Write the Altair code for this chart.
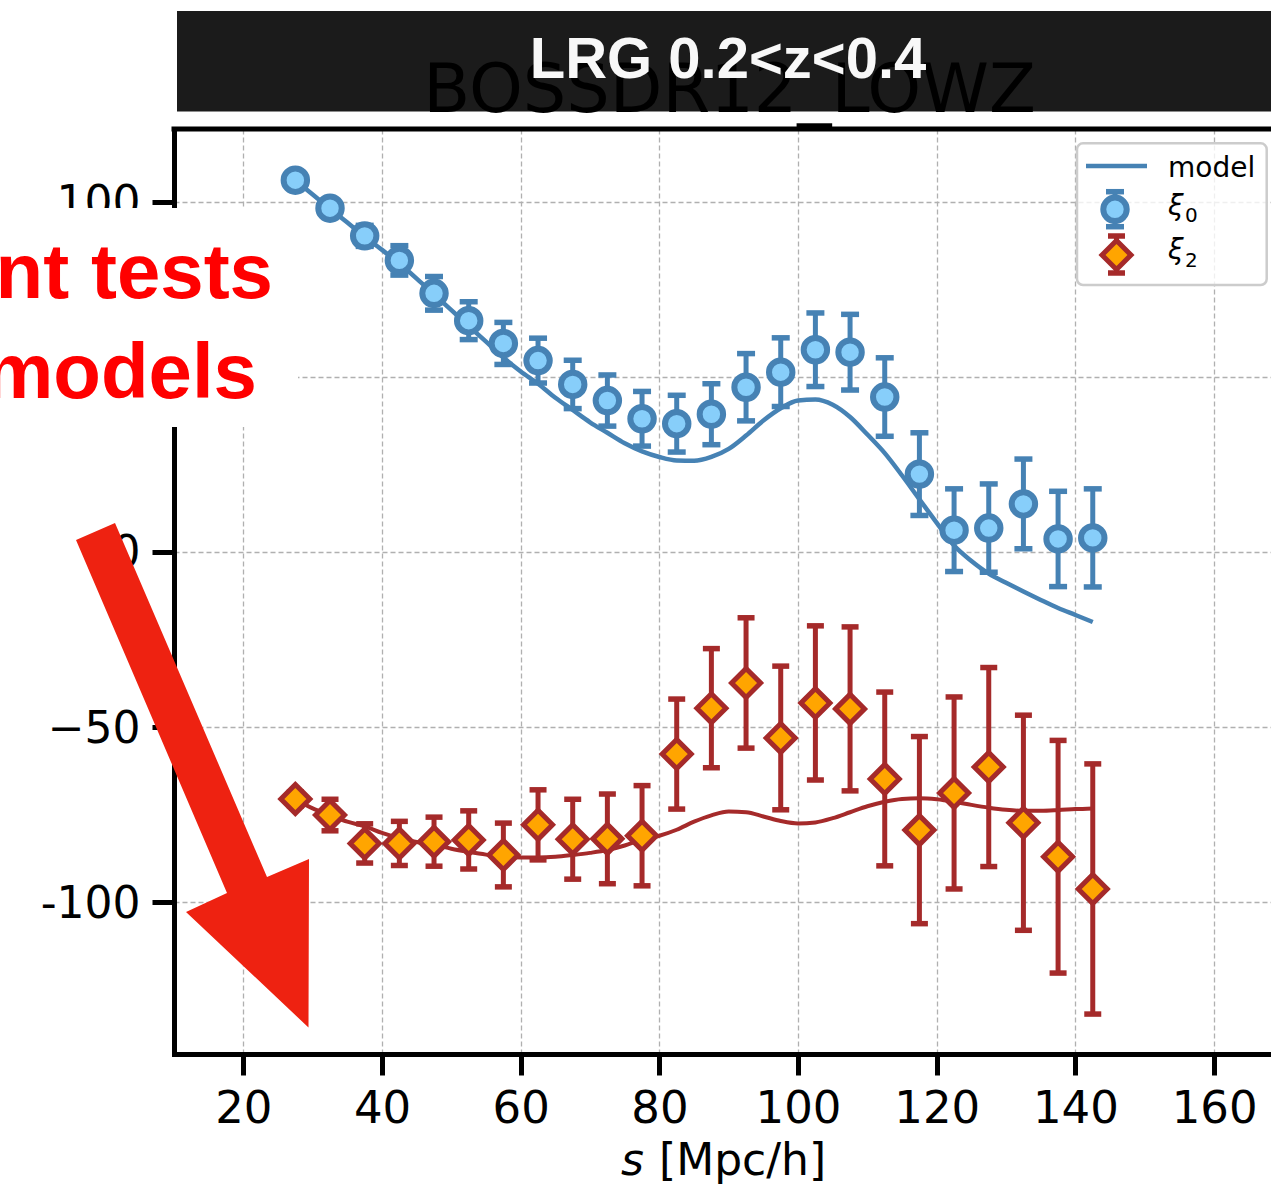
import altair as alt
import pandas as pd

# ---------------- data ----------------
s = [27.5, 32.5, 37.5, 42.5, 47.5, 52.5, 57.5, 62.5, 67.5, 72.5, 77.5, 82.5,
     87.5, 92.5, 97.5, 102.5, 107.5, 112.5, 117.5, 122.5, 127.5, 132.5, 137.5, 142.5]
xi0 = [106.1, 98.1, 90.2, 83.2, 73.8, 66.0, 59.5, 54.6, 47.8, 43.2, 38.0, 36.6,
       39.3, 47.0, 51.3, 57.7, 57.0, 44.2, 22.2, 6.2, 6.8, 13.7, 3.7, 4.0]
xi0_err = [1.5, 2.2, 3.0, 4.2, 4.8, 5.4, 6.0, 6.4, 6.9, 7.3, 7.8, 8.1,
           8.7, 9.6, 9.8, 10.5, 10.8, 11.2, 11.8, 11.8, 12.6, 12.8, 13.6, 14.0]
xi2 = [-70.5, -75.1, -83.2, -83.2, -82.7, -82.2, -86.5, -77.9, -82.0, -81.9, -81.0, -57.7,
       -44.6, -37.4, -53.1, -43.1, -44.8, -64.8, -79.4, -68.8, -61.4, -77.3, -87.0, -96.2]
xi2_err = [2.0, 4.5, 5.6, 6.3, 7.0, 8.3, 9.1, 10.0, 11.4, 12.8, 14.3, 15.7,
           17.0, 18.6, 20.5, 22.0, 23.4, 24.8, 26.7, 27.4, 28.4, 30.7, 33.2, 35.7]

s_model = [27.5, 30, 32.5, 35, 37.5, 40, 42.5, 45, 47.5, 50, 52.5, 55, 57.5, 60,
           62.5, 65, 67.5, 70, 72.5, 75, 77.5, 80, 82.5, 85, 87.5, 90, 92.5, 95,
           97.5, 100, 102.5, 105, 107.5, 110, 112.5, 115, 117.5, 120, 122.5, 125,
           127.5, 130, 132.5, 135, 137.5, 140, 142.5]
xi0_model = [106, 102, 98, 94, 90, 86.2, 82.3, 78, 73.5, 69, 64.5, 60, 55.5, 51.5,
             48, 44, 40.5, 37, 34, 31, 28.7, 27.1, 26.1, 26, 27.1, 29.4, 33.2, 37.5,
             41, 43.2, 43.5, 42, 38.5, 33.5, 28.2, 21.8, 15, 8.3, 1.8, -2.6,
             -6.2, -8.8, -11.3, -13.7, -16, -18, -20]
xi2_model = [-70.5, -73.2, -75.1, -77, -78.3, -80.2, -81.7, -82.8, -83.6, -84.7, -85.6,
             -86.4, -87, -87.2, -87.2, -87, -86.5, -85.9, -85.1, -83.8, -82.1, -81.0,
             -79.3, -77, -75.2, -74.1, -74.3, -75.5, -76.8, -77.5, -77.2, -76, -74.3,
             -72.6, -71.3, -70.5, -70.3, -70.6, -71.3, -72.2, -73, -73.6, -73.9,
             -73.9, -73.7, -73.4, -73.2]

x_ticks = [20, 40, 60, 80, 100, 120, 140, 160]
y_ticks = [-100, -50, 0, 50, 100]

title_text = "BOSSDR12_LOWZ"
banner_text = "LRG 0.2<z<0.4"
note_line1 = "nt tests"
note_line2 = "models"
legend_labels = ["model", "\u03be", "0", "\u03be", "2"]
x_title = ["s", "[Mpc/h]"]

# ---------------- colours / layout ----------------
BLUE = "#4682b4"
LIGHTBLUE = "#87cefa"
BROWN = "#a52a2a"
ORANGE = "#ffa500"
ARROW = "#ee2211"

W, H = 1097, 925
X_DOMAIN = [10.0, 10.0 + W / 6.934]
Y_DOMAIN = [-143.3, 120.7]

pts = pd.DataFrame({"s": s, "xi0": xi0, "e0": xi0_err, "xi2": xi2, "e2": xi2_err})
pts["lo0"] = pts["xi0"] - pts["e0"]
pts["hi0"] = pts["xi0"] + pts["e0"]
pts["lo2"] = pts["xi2"] - pts["e2"]
pts["hi2"] = pts["xi2"] + pts["e2"]
model = pd.DataFrame({"s": s_model, "m0": xi0_model, "m2": xi2_model})
one = pd.DataFrame({"k": [0]})

xscale = alt.Scale(domain=X_DOMAIN, nice=False, zero=False)
yscale = alt.Scale(domain=Y_DOMAIN, nice=False, zero=False)

common_axis = dict(
    grid=True, gridColor="#b0b0b0", gridDash=[5, 3], gridWidth=1.3,
    domainColor="black", domainWidth=5, domainCap="square",
    tickColor="black", tickWidth=5,
    labelFont="DejaVu Sans", labelColor="black",
    labelOverlap=False, labelFlush=False, title=None,
)
xaxis = alt.Axis(values=x_ticks, format="d", tickSize=21, labelPadding=11,
                 labelFontSize=45, **common_axis)
yaxis = alt.Axis(values=y_ticks, tickSize=22, labelPadding=12, labelFontSize=44,
                 labelOffset=2,
                 labelExpr="datum.value == -100 ? '-100' : (datum.value < 0 ? '\u2212' + format(-datum.value, 'd') : format(datum.value, 'd'))",
                 **common_axis)


def X(f):
    return alt.X(f"{f}:Q", scale=xscale, axis=xaxis)


def Y(f):
    return alt.Y(f"{f}:Q", scale=yscale, axis=yaxis)


layers = []

# model lines
layers.append(alt.Chart(model).mark_line(color=BLUE, strokeWidth=4.5, interpolate="monotone")
              .encode(x=X("s"), y=Y("m0")))
layers.append(alt.Chart(model).mark_line(color=BROWN, strokeWidth=4, interpolate="monotone")
              .encode(x=X("s"), y=Y("m2")))

# xi0 error bars + markers
layers.append(alt.Chart(pts).mark_rule(color=BLUE, strokeWidth=5)
              .encode(x=X("s"), y=Y("lo0"), y2="hi0:Q"))
for f in ["lo0", "hi0"]:
    layers.append(alt.Chart(pts).mark_tick(color=BLUE, orient="horizontal", size=18,
                                           thickness=5.5, opacity=1)
                  .encode(x=X("s"), y=Y(f)))
layers.append(alt.Chart(pts).mark_point(shape="circle", size=550, filled=True, fill=LIGHTBLUE,
                                        stroke=BLUE, strokeWidth=6, opacity=1)
              .encode(x=X("s"), y=Y("xi0")))

# xi2 error bars + markers
layers.append(alt.Chart(pts).mark_rule(color=BROWN, strokeWidth=5)
              .encode(x=X("s"), y=Y("lo2"), y2="hi2:Q"))
for f in ["lo2", "hi2"]:
    layers.append(alt.Chart(pts).mark_tick(color=BROWN, orient="horizontal", size=17,
                                           thickness=5.5, opacity=1)
                  .encode(x=X("s"), y=Y(f)))
layers.append(alt.Chart(pts).mark_point(shape="diamond", size=841, filled=True, fill=ORANGE,
                                        stroke=BROWN, strokeWidth=5, opacity=1)
              .encode(x=X("s"), y=Y("xi2")))

# top spine
layers.append(alt.Chart(one).mark_rule(color="black", strokeWidth=5, strokeCap="square")
              .encode(x=alt.value(0), x2=alt.value(W), y=alt.value(0)))


def rect(x1, x2, y1, y2, **kw):
    return alt.Chart(one).mark_rect(**kw).encode(
        x=alt.value(x1), x2=alt.value(x2), y=alt.value(y1), y2=alt.value(y2))


def text(txt, x, y, size, font="DejaVu Sans", weight="normal", style="normal",
         color="black", align="left"):
    return alt.Chart(one).mark_text(text=txt, align=align, baseline="alphabetic", font=font,
                                    fontSize=size, fontWeight=weight, fontStyle=style,
                                    color=color).encode(x=alt.value(x), y=alt.value(y))


def hrule(x1, x2, y, color, w):
    return alt.Chart(one).mark_rule(color=color, strokeWidth=w).encode(
        x=alt.value(x1), x2=alt.value(x2), y=alt.value(y))


def vrule(x, y1, y2, color, w):
    return alt.Chart(one).mark_rule(color=color, strokeWidth=w).encode(
        x=alt.value(x), y=alt.value(y1), y2=alt.value(y2))


# white box behind red annotation
layers.append(rect(-174, 124, 79, 298, color="white", opacity=1))
layers.append(text(note_line1, 99, 169, 78, font="Liberation Sans", weight="bold",
                   color="#ff0000", align="right"))
layers.append(text(note_line2, 83, 269, 78, font="Liberation Sans", weight="bold",
                   color="#ff0000", align="right"))

# red arrow (annotation polygon)
arrow_path = "M-98,411L-59,394L93,748L135,730L134.5,898.5L12,783L53,764Z"
layers.append(alt.Chart(one).mark_point(shape=arrow_path, size=4, filled=True, fill=ARROW,
                                        strokeWidth=0, opacity=1)
              .encode(x=alt.value(0), y=alt.value(0)))

# banner + titles
layers.append(rect(3, W, -118, -17.5, color="#1b1b1b", opacity=1))
layers.append(text(title_text, 555.5, -17.5, 68.5, align="center"))
layers.append(text(banner_text, 554, -51, 58, font="Liberation Sans", weight="bold",
                   color="#f8f8f8", align="center"))

# legend
layers.append(rect(903, 1092.7, 14.3, 156, fill="white", fillOpacity=0.8, stroke="#cccccc",
                   strokeWidth=2.5, cornerRadius=6))
layers.append(hrule(912, 973, 37, BLUE, 4.5))
layers.append(text(legend_labels[0], 994, 47.7, 28))
# xi0 entry
layers.append(vrule(941, 62.7, 97.7, BLUE, 5))
layers.append(hrule(932, 950, 62.7, BLUE, 5.5))
layers.append(hrule(932, 950, 97.7, BLUE, 5.5))
layers.append(alt.Chart(one).mark_point(shape="circle", size=550, filled=True, fill=LIGHTBLUE,
                                        stroke=BLUE, strokeWidth=6, opacity=1)
              .encode(x=alt.value(941), y=alt.value(80.3)))
layers.append(text(legend_labels[1], 994, 86, 28, style="italic"))
layers.append(text(legend_labels[2], 1011, 92.7, 20))
# xi2 entry
layers.append(vrule(942.5, 107, 144, BROWN, 5))
layers.append(hrule(934, 951, 107, BROWN, 5.5))
layers.append(hrule(934, 951, 144, BROWN, 5.5))
layers.append(alt.Chart(one).mark_point(shape="diamond", size=841, filled=True, fill=ORANGE,
                                        stroke=BROWN, strokeWidth=5, opacity=1)
              .encode(x=alt.value(942.5), y=alt.value(126)))
layers.append(text(legend_labels[3], 994, 130.2, 28, style="italic"))
layers.append(text(legend_labels[4], 1011, 137.7, 20))

# x-axis title
layers.append(text(x_title[0], 447, 1046, 44, style="italic"))
layers.append(text(x_title[1], 485, 1046, 44))

chart = alt.layer(*layers).properties(
    width=W, height=H,
    autosize=alt.AutoSizeParams(type="none"),
    padding={"left": 174, "top": 129, "right": 0, "bottom": 130},
    background="white",
).configure_view(stroke=None)

chart.save("out.html", embed_options={"renderer": "svg", "actions": False})
